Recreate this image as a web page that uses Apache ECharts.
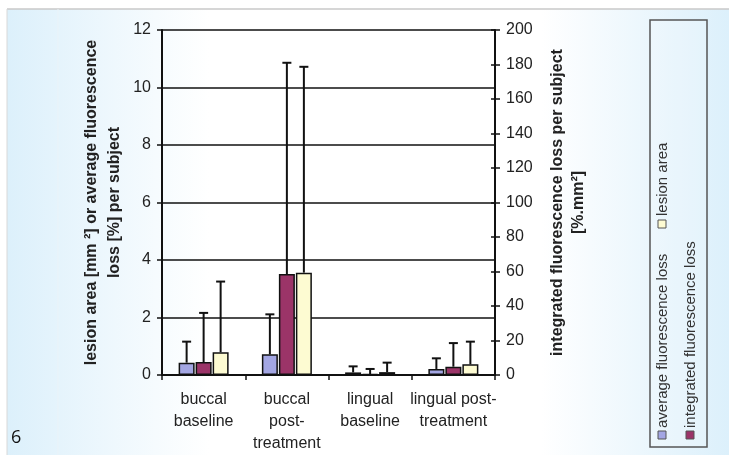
<!DOCTYPE html>
<html>
<head>
<meta charset="utf-8">
<script src="https://cdn.jsdelivr.net/npm/echarts@6/dist/echarts.min.js"></script>
<style>
html,body{margin:0;padding:0;background:#fff;}
#c{width:729px;height:461px;}
</style>
</head>
<body>
<div id="c"></div>
<script>
const categories = ['buccal\nbaseline', 'buccal\npost-\ntreatment', 'lingual\nbaseline', 'lingual post-\ntreatment'];
const avgLoss = [0.43, 0.72, 0.09, 0.21];
const avgLossUpper = [1.16, 2.11, 0.30, 0.58];
const integratedLoss = [7.5, 58.5, 0.5, 4.8];
const integratedLossUpper = [36, 181, 3.5, 18.5];
const lesionArea = [0.79, 3.56, 0.10, 0.37];
const lesionAreaUpper = [3.25, 10.72, 0.43, 1.16];
const leftTicks = [0, 2, 4, 6, 8, 10, 12];
const rightTicks = [0, 20, 40, 60, 80, 100, 120, 140, 160, 180, 200];
const seriesNames = ['average fluorescence loss', 'integrated fluorescence loss', 'lesion area'];
const colors = ['#a3a6e3', '#9b3468', '#fdfbd2'];

const BAR_W = 16, STEP = 17;
function errSeries(vals, upper, yIdx, offset) {
  return {
    type: 'custom', xAxisIndex: 0, yAxisIndex: yIdx, z: 1, silent: true,
    data: vals.map((v, i) => [i, v, upper[i]]),
    renderItem: function (params, api) {
      const b = api.coord([api.value(0), api.value(1)]);
      const t = api.coord([api.value(0), api.value(2)]);
      const x = b[0] + offset;
      return { type: 'group', children: [
        { type: 'line', shape: { x1: x, y1: b[1], x2: x, y2: t[1] }, style: { stroke: '#111', lineWidth: 2 } },
        { type: 'line', shape: { x1: x - 4.5, y1: t[1], x2: x + 4.5, y2: t[1] }, style: { stroke: '#111', lineWidth: 2 } }
      ]};
    }
  };
}

const chart = echarts.init(document.getElementById('c'));
const fontFam = '"Liberation Sans", Arial, sans-serif';
chart.setOption({
  animation: false,
  textStyle: { fontFamily: fontFam },
  graphic: [
    { type: 'rect', z: -10, shape: { x: 7, y: 9, width: 722, height: 446 },
      style: { fill: new echarts.graphic.LinearGradient(0, 0, 1, 0, [
        { offset: 0, color: '#dcf0fb' }, { offset: 0.28, color: '#ffffff' },
        { offset: 0.74, color: '#ffffff' }, { offset: 1, color: '#dcf0fb' }]) } },
    { type: 'line', z: -9, shape: { x1: 7, y1: 9, x2: 729, y2: 9 }, style: { stroke: '#c8c8c8', lineWidth: 1.5 } },
    { type: 'line', z: -9, shape: { x1: 7, y1: 9, x2: 7, y2: 455 }, style: { stroke: '#d8d8d8', lineWidth: 1 } },
    { type: 'line', z: -9, shape: { x1: 58, y1: 9, x2: 58, y2: 455 }, style: { stroke: '#eaf3f8', lineWidth: 1 } },
    { type: 'text', x: 11, y: 429, style: { text: '6', fontSize: 18, fill: '#111', fontFamily: '"Open Sans", sans-serif' } },
    { type: 'rect', shape: { x: 650, y: 20, width: 57, height: 427 }, style: { fill: 'rgba(255,255,255,0.15)', stroke: '#555', lineWidth: 1.5 } },
    { type: 'rect', shape: { x: 658, y: 431, width: 8, height: 8 }, style: { fill: colors[0], stroke: '#555', lineWidth: 1 } },
    { type: 'rect', shape: { x: 686, y: 431, width: 8, height: 8 }, style: { fill: colors[1], stroke: '#555', lineWidth: 1 } },
    { type: 'rect', shape: { x: 658, y: 220, width: 8, height: 8 }, style: { fill: colors[2], stroke: '#555', lineWidth: 1 } },
    { type: 'text', x: 663, y: 428, rotation: Math.PI / 2, style: { text: seriesNames[0], fontSize: 15, fill: '#333', align: 'left', verticalAlign: 'middle', fontFamily: fontFam } },
    { type: 'text', x: 691, y: 428, rotation: Math.PI / 2, style: { text: seriesNames[1], fontSize: 15, fill: '#333', align: 'left', verticalAlign: 'middle', fontFamily: fontFam } },
    { type: 'text', x: 663, y: 216, rotation: Math.PI / 2, style: { text: seriesNames[2], fontSize: 15, fill: '#333', align: 'left', verticalAlign: 'middle', fontFamily: fontFam } }
  ],
  grid: { left: 162, right: 234, top: 30, bottom: 86 },
  xAxis: {
    type: 'category', data: categories,
    axisLine: { lineStyle: { color: '#111', width: 2 } },
    axisTick: { show: true, length: 5, lineStyle: { color: '#111', width: 1.5 } },
    axisLabel: { fontSize: 16, color: '#222', lineHeight: 22, margin: 14, interval: 0 }
  },
  yAxis: [
    { type: 'value', min: 0, max: 12, interval: 2, position: 'left',
      name: 'lesion area [mm ²] or average fluorescence\nloss [%] per subject',
      nameLocation: 'middle', nameGap: 36, nameRotate: 90,
      nameTextStyle: { fontSize: 16, fontWeight: 'bold', color: '#222', lineHeight: 23 },
      axisLine: { show: true, lineStyle: { color: '#111', width: 2 } },
      axisTick: { show: true, length: 5, lineStyle: { color: '#111', width: 1.5 } },
      axisLabel: { fontSize: 16, color: '#222', margin: 11 },
      splitLine: { show: true, lineStyle: { color: '#111', width: 1.5 } } },
    { type: 'value', min: 0, max: 200, interval: 20, position: 'right',
      name: 'integrated fluorescence loss per subject\n[%.mm²]',
      nameLocation: 'middle', nameGap: 52, nameRotate: 90,
      nameTextStyle: { fontSize: 16, fontWeight: 'bold', color: '#222', lineHeight: 21 },
      axisLine: { show: true, lineStyle: { color: '#111', width: 2 } },
      axisTick: { show: true, length: 5, lineStyle: { color: '#111', width: 1.5 } },
      axisLabel: { fontSize: 16, color: '#222', margin: 11 },
      splitLine: { show: false } },
    { type: 'value', min: 0, max: 200, interval: 20, position: 'right',
      axisLine: { show: false }, axisLabel: { show: false }, splitLine: { show: false },
      axisTick: { show: true, inside: true, length: 4, lineStyle: { color: '#111', width: 1.5 } } }
  ],
  series: [
    errSeries(avgLoss, avgLossUpper, 0, -STEP),
    errSeries(integratedLoss, integratedLossUpper, 1, 0),
    errSeries(lesionArea, lesionAreaUpper, 0, STEP),
    { name: seriesNames[0], type: 'bar', yAxisIndex: 0, data: avgLoss, barWidth: BAR_W, barGap: '6.25%', z: 3,
      itemStyle: { color: colors[0], borderColor: '#111', borderWidth: 1.5 } },
    { name: seriesNames[1], type: 'bar', yAxisIndex: 1, data: integratedLoss, barWidth: BAR_W, barGap: '6.25%', z: 3,
      itemStyle: { color: colors[1], borderColor: '#111', borderWidth: 1.5 } },
    { name: seriesNames[2], type: 'bar', yAxisIndex: 0, data: lesionArea, barWidth: BAR_W, barGap: '6.25%', z: 3,
      itemStyle: { color: colors[2], borderColor: '#111', borderWidth: 1.5 } }
  ]
});
</script>
</body>
</html>
